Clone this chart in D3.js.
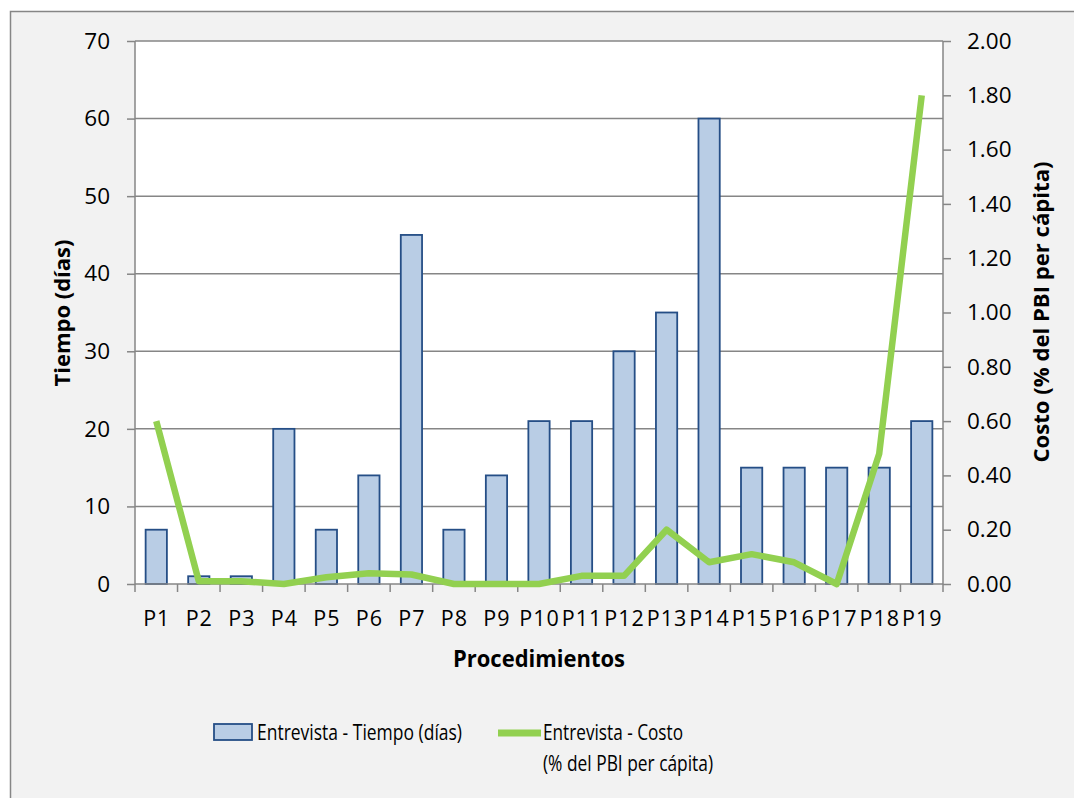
<!DOCTYPE html>
<html><head><meta charset="utf-8">
<script src="https://cdn.jsdelivr.net/npm/d3@7"></script>
<style>body{margin:0;background:#fff}svg{display:block}text{font-family:"Open Sans",sans-serif;fill:#000}</style>
</head><body><svg id="c" width="1074" height="798"></svg>
<script>
const categories = ["P1","P2","P3","P4","P5","P6","P7","P8","P9","P10","P11","P12","P13","P14","P15","P16","P17","P18","P19"];
const tiempo = [7,1,1,20,7,14,45,7,14,21,21,30,35,60,15,15,15,15,21];
const costo = [0.60,0.01,0.01,0.00,0.025,0.04,0.035,0.00,0.00,0.00,0.03,0.03,0.20,0.08,0.11,0.08,0.00,0.48,1.80];
const leftTicks = [0,10,20,30,40,50,60,70];
const rightTicks = [0,0.2,0.4,0.6,0.8,1.0,1.2,1.4,1.6,1.8,2.0];
const seriesNames = ["Entrevista - Tiempo (días)", ["Entrevista - Costo","(% del PBI per cápita)"]];

const svg = d3.select("#c");
const L=135,R=943,T=41,B=584;
const grid="#868686";
svg.append("rect").attr("x",10.5).attr("y",11.5).attr("width",1080).attr("height",800).attr("fill","#f2f2f2").attr("stroke",grid).attr("stroke-width",1.5);
svg.append("rect").attr("x",L).attr("y",T).attr("width",R-L).attr("height",B-T).attr("fill","#fff");

const x = d3.scaleBand().domain(categories).range([L,R]).paddingInner(0.5).paddingOuter(0.25);
const xb = d3.scaleBand().domain(categories).range([L,R]);
const yL = d3.scaleLinear().domain([0,70]).range([B,T]);
const yR = d3.scaleLinear().domain([0,2]).range([B,T]);

// gridlines
svg.append("g").selectAll("line").data(leftTicks.slice(1)).join("line")
  .attr("x1",L).attr("x2",R).attr("y1",d=>yL(d)).attr("y2",d=>yL(d)).attr("stroke",grid).attr("stroke-width",1.5);

// bars
svg.append("g").selectAll("rect").data(tiempo).join("rect")
  .attr("x",(d,i)=>x(categories[i])).attr("width",x.bandwidth())
  .attr("y",d=>yL(d)).attr("height",d=>B-yL(d))
  .attr("fill","#b9cde5").attr("stroke","#254e86").attr("stroke-width",1.8);

// axes
const axL = d3.axisLeft(yL).tickValues(leftTicks).tickSize(8).tickPadding(17).tickFormat(d3.format("d"));
const gL = svg.append("g").attr("transform",`translate(${L},0)`).call(axL);
const axR = d3.axisRight(yR).tickValues(rightTicks).tickSize(8).tickPadding(16).tickFormat(d3.format(".2f"));
const gR = svg.append("g").attr("transform",`translate(${R},0)`).call(axR);
const axB = d3.axisBottom(xb).tickSize(0).tickPadding(27);
const gB = svg.append("g").attr("transform",`translate(0,${B})`).call(axB);
// bottom ticks between categories
svg.append("g").selectAll("line").data(d3.range(categories.length+1)).join("line")
  .attr("x1",i=>L+i*xb.step()).attr("x2",i=>L+i*xb.step()).attr("y1",B).attr("y2",B+8)
  .attr("stroke",grid).attr("stroke-width",1.5);
[gL,gR,gB].forEach(g=>{
  g.select(".domain").attr("stroke",grid).attr("stroke-width",1.5);
  g.selectAll(".tick line").attr("stroke",grid).attr("stroke-width",1.5);
  g.selectAll(".tick text").attr("font-family","'Open Sans',sans-serif").attr("fill","#000");
});
gL.selectAll(".tick text").attr("font-size",22.5);
gR.selectAll(".tick text").attr("font-size",22.5);
gB.selectAll(".tick text").attr("font-size",21.5).attr("letter-spacing",1).attr("dx",0.5);
gL.select(".domain").attr("d",`M0,${T}V${B}`);
gR.select(".domain").attr("d",`M0,${T}V${B}`);
gB.select(".domain").attr("d",`M${L},0H${R}`);

// line
const line = d3.line().x((d,i)=>xb(categories[i])+xb.bandwidth()/2).y(d=>yR(d));
svg.append("path").datum(costo).attr("d",line).attr("fill","none").attr("stroke","#92d050").attr("stroke-width",6.5).attr("stroke-linejoin","round");

function fit(sel,w){ sel.attr("textLength",w).attr("lengthAdjust","spacingAndGlyphs"); return sel; }
// titles
fit(svg.append("text").attr("transform","translate(70,313) rotate(-90)").attr("text-anchor","middle").attr("font-size",22).attr("font-weight","bold").text("Tiempo (días)"),147);
fit(svg.append("text").attr("transform","translate(1049,312) rotate(-90)").attr("text-anchor","middle").attr("font-size",22).attr("font-weight","bold").text("Costo (% del PBI per cápita)"),301);
fit(svg.append("text").attr("x",539).attr("y",667).attr("text-anchor","middle").attr("font-size",22.5).attr("font-weight","bold").text("Procedimientos"),172);

// legend
const lg = svg.append("g");
lg.append("rect").attr("x",214).attr("y",724).attr("width",38).attr("height",16).attr("fill","#b9cde5").attr("stroke","#254e86").attr("stroke-width",1.8);
fit(lg.append("text").attr("x",257).attr("y",740).attr("font-size",21).text(seriesNames[0]),205);
lg.append("line").attr("x1",498).attr("x2",541).attr("y1",733).attr("y2",733).attr("stroke","#92d050").attr("stroke-width",7);
fit(lg.append("text").attr("x",543).attr("y",740).attr("font-size",21).text(seriesNames[1][0]),140);
fit(lg.append("text").attr("x",543).attr("y",771).attr("font-size",21).text(seriesNames[1][1]),170);
</script></body></html>
